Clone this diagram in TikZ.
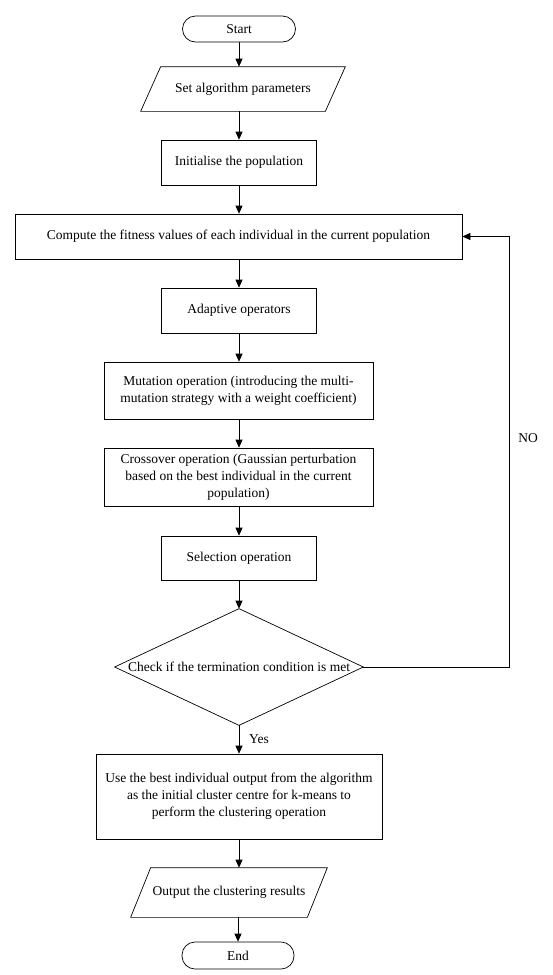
\documentclass[tikz,border=0pt]{standalone}
\usepackage{fontspec}
\setmainfont{Liberation Serif}
\usetikzlibrary{arrows.meta,calc}
\begin{document}
\begin{tikzpicture}[x=1pt,y=-1pt,
  base/.style={font=\fontsize{13.5}{17}\selectfont, align=center, inner sep=0pt, line width=0.7pt},
  box/.style n args={2}{base, draw, rectangle, minimum width=#1, minimum height=#2},
  term/.style n args={2}{base, draw, rectangle, rounded corners=13pt, minimum width=#1, minimum height=#2},
  ghost/.style n args={2}{base, rectangle, minimum width=#1, minimum height=#2},
  outline/.style={line width=0.7pt},
  arr/.style={-{Triangle[length=8pt,width=7pt]}, line width=0.7pt},
  lbl/.style={font=\fontsize{13.5}{17}\selectfont, inner sep=0pt}]
\fill[white] (0,0) rectangle (553,975);
\useasboundingbox (0,0) rectangle (553,975);

\node[term={113pt}{26pt}] (start) at (239,29) {Start};
\node[ghost={204pt}{44pt}] (p1) at (243,89) {Set algorithm parameters};
\draw[outline] ($(p1.north west)+(20,0)$) -- (p1.north east) -- ($(p1.south east)+(-20,0)$) -- (p1.south west) -- cycle;
\node[box={155pt}{45pt}] (init) at (239,162.5) {Initialise the population};
\node[box={447pt}{45pt}] (comp) at (238.5,236.5) {Compute the fitness values of each individual in the current population};
\node[box={155pt}{45pt}] (adap) at (239,310.5) {Adaptive operators};
\node[box={269pt}{57pt}] (mut) at (238.5,390.5) {Mutation operation (introducing the multi-\\mutation strategy with a weight coefficient)};
\node[box={269pt}{58pt}] (cross) at (238.5,477) {Crossover operation (Gaussian perturbation\\based on the best individual in the current\\population)};
\node[box={155pt}{44pt}] (sel) at (239,558) {Selection operation};
\node[ghost={248pt}{116pt}] (dia) at (239,667) {Check if the termination condition is met};
\draw[outline] (dia.north) -- (dia.east) -- (dia.south) -- (dia.west) -- cycle;
\node[box={286pt}{85pt}] (big) at (239,796.5) {Use the best individual output from the algorithm\\as the initial cluster centre for k-means to\\perform the clustering operation};
\node[ghost={196pt}{49pt}] (p2) at (229,892.5) {Output the clustering results};
\draw[outline] ($(p2.north west)+(20,0)$) -- (p2.north east) -- ($(p2.south east)+(-20,0)$) -- (p2.south west) -- cycle;
\node[term={112pt}{27pt}] (end) at (238,955.5) {End};

\draw[arr] (start.south) -- (start.south |- p1.north);
\draw[arr] (init.north |- p1.south) -- (init.north);
\draw[arr] (init.south) -- (init.south |- comp.north);
\draw[arr] (adap.north |- comp.south) -- (adap.north);
\draw[arr] (adap.south) -- (adap.south |- mut.north);
\draw[arr] (adap.south |- mut.south) -- (adap.south |- cross.north);
\draw[arr] (sel.north |- cross.south) -- (sel.north);
\draw[arr] (sel.south) -- (dia.north);
\draw[arr] (dia.south) -- (dia.south |- big.north);
\draw[arr] (big.south) -- (big.south |- p2.north);
\draw[arr] (end.north |- p2.south) -- (end.north);
\draw[arr] (dia.east) -- ++(146,0) |- (comp.east);

\node[lbl] (no) at (528,438) {NO};
\node[lbl] (yes) at (259,739) {Yes};
\end{tikzpicture}
\end{document}
